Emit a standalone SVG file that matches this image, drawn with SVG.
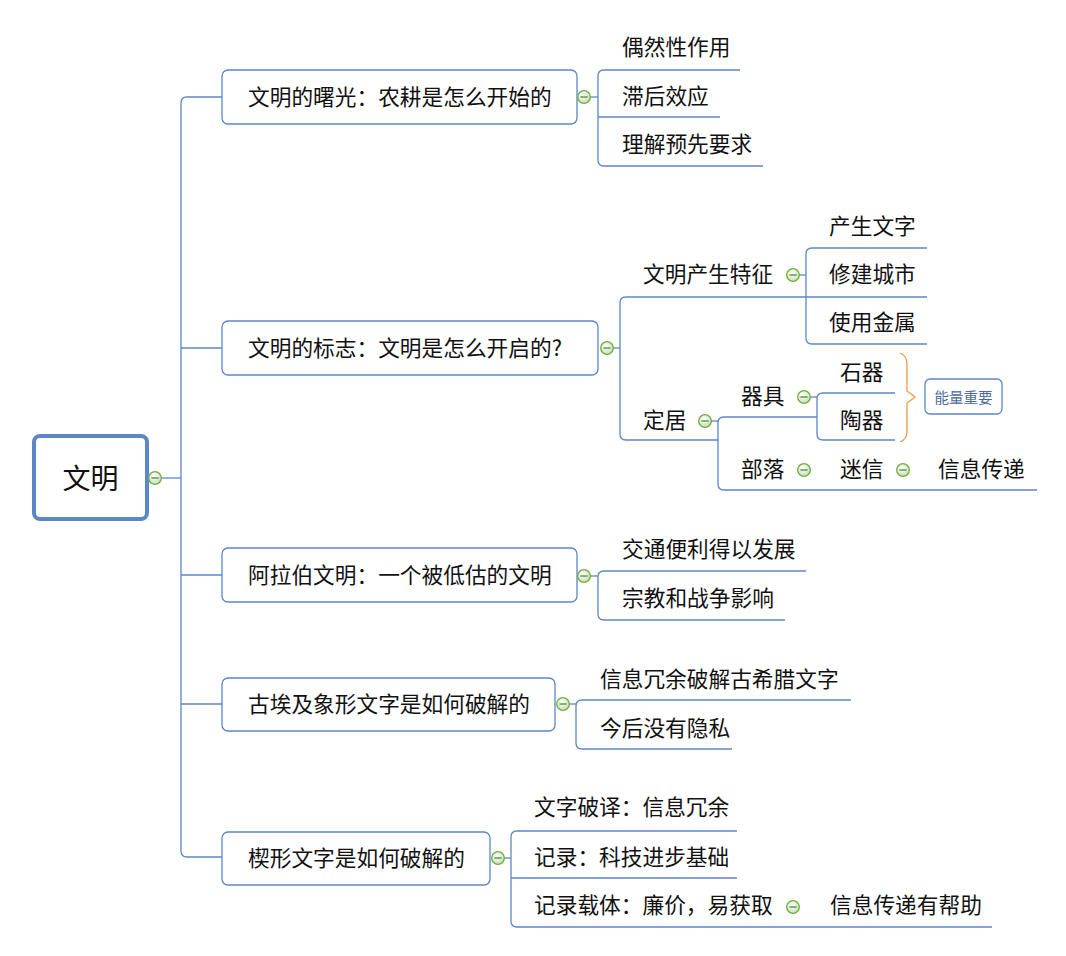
<svg xmlns="http://www.w3.org/2000/svg" xmlns:xlink="http://www.w3.org/1999/xlink" width="1066" height="956" viewBox="0 0 1066 956">
<style>
.t{font-family:"Noto Sans CJK SC","Noto Sans CJK JP",sans-serif;font-size:21.7px;fill:#111;dominant-baseline:central}
.root{font-size:28px}
.small{font-size:14.5px;fill:#4d6a9c}
.box{fill:#fff;stroke:#5b87c7;stroke-width:1.3}
.ln{fill:none;stroke:#5b87c7;stroke-width:1.3}
.br{fill:none;stroke:#f0994a;stroke-width:1.3}
</style>
<defs>
<radialGradient id="cg" cx="0.4" cy="0.35" r="0.7">
<stop offset="0" stop-color="#ffffff"/>
<stop offset="1" stop-color="#c6ddb5"/>
</radialGradient>
<g id="col">
<circle r="6.3" fill="url(#cg)" stroke="#6cae3a" stroke-width="1.3"/>
<line x1="-3.6" y1="0" x2="3.6" y2="0" stroke="#4c7a34" stroke-width="1.2"/>
</g>
</defs>
<rect width="1066" height="956" fill="#fff"/>

<g id="connectors">
<path class="ln" d="M161 478 H181"/>
<path class="ln" d="M222 97 H187 Q181 97 181 103 L181 851 Q181 857 187 857 H222"/>
<path class="ln" d="M181 348 H222 M181 575 H222 M181 704 H222"/>
<path class="ln" d="M590 97 H598"/>
<path class="ln" d="M740 70 H604 Q598 70 598 76 L598 160 Q598 166 604 166 H763 M598 117 H720"/>
<path class="ln" d="M613 348 H620"/>
<path class="ln" d="M927 297 H626 Q620 297 620 303 L620 434 Q620 440 626 440 H718"/>
<path class="ln" d="M799 275 H806"/>
<path class="ln" d="M927 248 H812 Q806 248 806 254 L806 338 Q806 344 812 344 H927"/>
<path class="ln" d="M711 421 H718"/>
<path class="ln" d="M817 417 H724 Q718 417 718 423 L718 484 Q718 490 724 490 H1037"/>
<path class="ln" d="M810 397 H817"/>
<path class="ln" d="M895 393 H823 Q817 393 817 399 L817 434 Q817 440 823 440 H895"/>
<path class="ln" d="M590 576 H598"/>
<path class="ln" d="M806 571 H604 Q598 571 598 577 L598 614 Q598 620 604 620 H785"/>
<path class="ln" d="M569 704 H576"/>
<path class="ln" d="M851 700 H582 Q576 700 576 706 L576 743 Q576 749 582 749 H732"/>
<path class="ln" d="M504 858 H511"/>
<path class="ln" d="M737 831 H517 Q511 831 511 837 L511 921 Q511 927 517 927 H992 M511 878 H737"/>
<path class="br" d="M900 353 Q907 356 907 364 L907 391 L915 397 L907 403 L907 432 Q907 439 900 442"/>
</g>

<g id="root">
<rect x="34" y="436" width="113" height="83" rx="6" fill="#fff" stroke="#5b87c7" stroke-width="4"/>
<text class="t root" x="90.5" y="476.5" text-anchor="middle">文明</text>
<use xlink:href="#col" x="155" y="478"/>
</g>

<g id="b1">
<rect class="box" x="222" y="70" width="355" height="54" rx="6"/>
<text class="t" x="248" y="95.5">文明的曙光：农耕是怎么开始的</text>
<use xlink:href="#col" x="584" y="97"/>
</g>
<g id="b1c1"><text class="t" x="622" y="45.5">偶然性作用</text></g>
<g id="b1c2"><text class="t" x="622" y="94.5">滞后效应</text></g>
<g id="b1c3"><text class="t" x="622" y="142.5">理解预先要求</text></g>

<g id="b2">
<rect class="box" x="222" y="321" width="376" height="54" rx="6"/>
<text class="t" x="248" y="346.5">文明的标志：文明是怎么开启的?</text>
<use xlink:href="#col" x="607" y="348"/>
</g>
<g id="b2c1">
<text class="t" x="643" y="272.5">文明产生特征</text>
<use xlink:href="#col" x="793" y="275"/>
</g>
<g id="b2c1a"><text class="t" x="829" y="224.5">产生文字</text></g>
<g id="b2c1b"><text class="t" x="829" y="272.5">修建城市</text></g>
<g id="b2c1c"><text class="t" x="829" y="320.5">使用金属</text></g>
<g id="b2c2">
<text class="t" x="643" y="418.5">定居</text>
<use xlink:href="#col" x="705" y="421"/>
</g>
<g id="b2c2a">
<text class="t" x="741" y="394.5">器具</text>
<use xlink:href="#col" x="804" y="397"/>
</g>
<g id="b2c2a1"><text class="t" x="840" y="370.5">石器</text></g>
<g id="b2c2a2"><text class="t" x="840" y="418.5">陶器</text></g>
<g id="b2c2b">
<text class="t" x="741" y="467.5">部落</text>
<use xlink:href="#col" x="804" y="470"/>
</g>
<g id="b2c2b1">
<text class="t" x="840" y="467.5">迷信</text>
<use xlink:href="#col" x="903" y="470"/>
</g>
<g id="b2c2b1a"><text class="t" x="938" y="467.5">信息传递</text></g>
<g id="summary">
<rect class="box" x="925" y="379" width="77" height="35" rx="5"/>
<text class="t small" x="963.5" y="396" text-anchor="middle">能量重要</text>
</g>

<g id="b3">
<rect class="box" x="222" y="548" width="355" height="54" rx="6"/>
<text class="t" x="248" y="573.5">阿拉伯文明：一个被低估的文明</text>
<use xlink:href="#col" x="584" y="576"/>
</g>
<g id="b3c1"><text class="t" x="622" y="547.5">交通便利得以发展</text></g>
<g id="b3c2"><text class="t" x="622" y="596.5">宗教和战争影响</text></g>

<g id="b4">
<rect class="box" x="222" y="678" width="333" height="53" rx="6"/>
<text class="t" x="248" y="702.5">古埃及象形文字是如何破解的</text>
<use xlink:href="#col" x="563" y="704"/>
</g>
<g id="b4c1"><text class="t" x="600" y="677.5">信息冗余破解古希腊文字</text></g>
<g id="b4c2"><text class="t" x="600" y="726.5">今后没有隐私</text></g>

<g id="b5">
<rect class="box" x="222" y="832" width="268" height="53" rx="6"/>
<text class="t" x="248" y="856.5">楔形文字是如何破解的</text>
<use xlink:href="#col" x="498" y="858"/>
</g>
<g id="b5c1"><text class="t" x="534" y="805.5">文字破译：信息冗余</text></g>
<g id="b5c2"><text class="t" x="534" y="855.5">记录：科技进步基础</text></g>
<g id="b5c3">
<text class="t" x="534" y="903.5">记录载体：廉价，易获取</text>
<use xlink:href="#col" x="793" y="907"/>
</g>
<g id="b5c3a"><text class="t" x="830" y="903.5">信息传递有帮助</text></g>
</svg>
